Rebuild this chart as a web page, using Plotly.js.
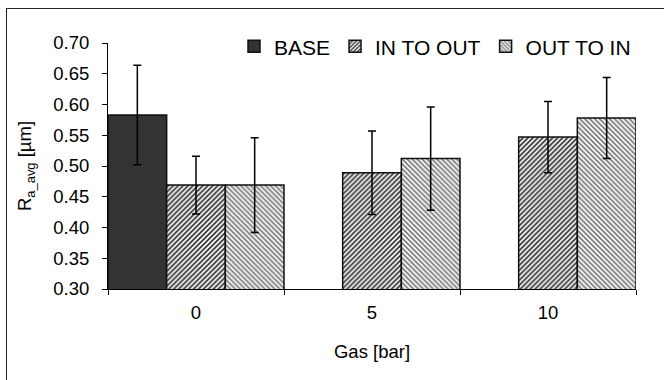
<!DOCTYPE html>
<html>
<head>
<meta charset="utf-8">
<script src="https://cdn.plot.ly/plotly-3.0.1.min.js"></script>
<style>
  html, body { margin: 0; padding: 0; background: #fff; }
  #wrap { position: relative; width: 664px; height: 380px; overflow: hidden; }
  #chart { position: absolute; left: 0; top: 0; width: 664px; height: 380px; }
  #frame { position: absolute; left: 6px; top: 8px; width: 700px; height: 400px;
           border-left: 1px solid #222; border-top: 1px solid #222; pointer-events: none; }
</style>
</head>
<body>
<div id="wrap">
  <div id="chart"></div>
  <div id="frame"></div>
</div>
<script>
// Data
const categories = ['0', '5', '10'];
const seriesNames = ['BASE', 'IN TO OUT', 'OUT TO IN'];
const baseValues = [0.583, null, null];
const baseErrors = [0.081, null, null];
const inToOutValues = [0.469, 0.489, 0.547];
const inToOutErrors = [0.047, 0.068, 0.058];
const outToInValues = [0.469, 0.512, 0.578];
const outToInErrors = [0.077, 0.084, 0.066];
const yTickValues = [0.30, 0.35, 0.40, 0.45, 0.50, 0.55, 0.60, 0.65, 0.70];

const FONT = "'Liberation Sans', Arial, sans-serif";
const errStyle = { type: 'data', visible: true, color: '#000', thickness: 1.5, width: 4 };
const outline = { color: '#111', width: 1.5 };

const traces = [
  {
    type: 'bar', name: seriesNames[0], x: categories, y: baseValues,
    marker: { color: '#333333', line: outline },
    error_y: Object.assign({ array: baseErrors }, errStyle)
  },
  {
    type: 'bar', name: seriesNames[1], x: categories, y: inToOutValues,
    marker: { color: '#ffffff', line: outline,
              pattern: { shape: '/', fgcolor: '#333333', bgcolor: '#ffffff', size: 3.5, solidity: 0.5 } },
    error_y: Object.assign({ array: inToOutErrors }, errStyle)
  },
  {
    type: 'bar', name: seriesNames[2], x: categories, y: outToInValues,
    marker: { color: '#ffffff', line: outline,
              pattern: { shape: '\\', fgcolor: '#7a7a7a', bgcolor: '#ffffff', size: 3.5, solidity: 0.5 } },
    error_y: Object.assign({ array: outToInErrors }, errStyle)
  }
];

const layout = {
  width: 664, height: 380,
  margin: { l: 108, r: 28, t: 43, b: 91 },
  paper_bgcolor: '#ffffff', plot_bgcolor: '#ffffff',
  font: { family: FONT, color: '#000', size: 18 },
  barmode: 'group', bargap: 0, bargroupgap: 0,
  showlegend: true,
  legend: {
    orientation: 'h', x: 1.0, xanchor: 'right', y: 0.985, yanchor: 'middle',
    font: { family: FONT, size: 21, color: '#000' }, bgcolor: 'rgba(0,0,0,0)'
  },
  xaxis: {
    type: 'category', categoryorder: 'array', categoryarray: categories,
    showline: true, linecolor: '#000', linewidth: 1, mirror: false,
    ticks: 'outside', tickson: 'boundaries', ticklen: 5, tickcolor: '#000', tickwidth: 1,
    ticklabelstandoff: 7,
    showgrid: false, zeroline: false,
    tickfont: { family: FONT, size: 18.5, color: '#000' },
    title: { text: 'Gas [bar]', font: { family: FONT, size: 18.5, color: '#000' }, standoff: 22 }
  },
  yaxis: {
    range: [0.3, 0.7], tickmode: 'array', tickvals: yTickValues,
    tickformat: '.2f',
    showline: true, linecolor: '#000', linewidth: 1,
    ticks: 'outside', ticklen: 5, tickcolor: '#000', tickwidth: 1,
    ticklabelstandoff: 9,
    showgrid: false, zeroline: false,
    tickfont: { family: FONT, size: 18.5, color: '#000' },
    title: { text: 'R<sub>a_avg</sub> [µm]', font: { family: FONT, size: 18.5, color: '#000' }, standoff: 16 }
  }
};

Plotly.newPlot('chart', traces, layout, { displayModeBar: false, staticPlot: true });
</script>
</body>
</html>
